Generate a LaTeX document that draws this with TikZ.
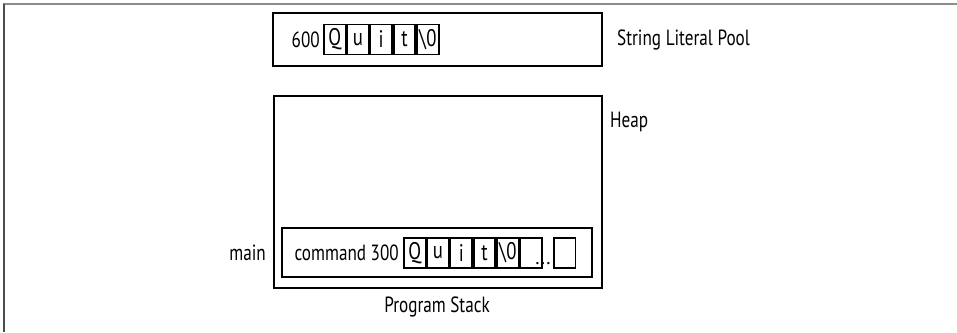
\documentclass[tikz,border=0pt]{standalone}
\usepackage{fontspec}
\usetikzlibrary{fit}
\setmainfont{PT Sans}[FakeStretch=0.78]
\newfontfamily\dotfont{PT Sans}
\begin{document}
\begin{tikzpicture}[x=1pt,y=-1pt,
  box/.style={draw=black,line width=2.4pt,inner sep=0pt},
  cell/.style={draw=black,line width=1.8pt,minimum width=21.5pt,minimum height=30pt,inner sep=0pt,anchor=west,font=\fontsize{24}{24}\selectfont},
  lbl/.style={inner sep=0pt,font=\fontsize{22}{22}\selectfont}]
\useasboundingbox (0,0) rectangle (957,332);
% frame
\draw[line width=2pt,draw=black!45] (3,4) -- (957,4);
\draw[line width=2pt,draw=black!70] (4,4) -- (4,332);
% string literal pool
\node[box,fit={(273,13) (602,66)}] (pool) {};
\node[lbl,anchor=west] (poollbl) at (617,40) {String Literal Pool};
\node[lbl,anchor=east] (six) at (320,40) {600};
\node[cell] (p1) at (323,39.5) {Q};
\node[cell,anchor=west] (p2) at (p1.east) {u};
\node[cell,anchor=west] (p3) at (p2.east) {i};
\node[cell,anchor=west] (p4) at (p3.east) {t};
\node[cell,anchor=west] (p5) at (p4.east) {\textbackslash 0};
% heap / stack
\node[box,fit={(274,96) (602,288)}] (heap) {};
\node[lbl,anchor=west] (heaplbl) at (610,122) {Heap};
\node[box,fit={(282,228) (592,277)}] (frame) {};
\node[lbl,anchor=east] (main) at (266,253) {main};
\node[lbl,anchor=east] (cmd) at (399,253) {command 300};
\node[cell] (c1) at (403,253) {Q};
\node[cell] (c2) at (c1.east) {u};
\node[cell] (c3) at (c2.east) {i};
\node[cell] (c4) at (c3.east) {t};
\node[cell] (c5) at (c4.east) {\textbackslash 0};
\node[cell] (c6) at (c5.east) {};
\node[inner sep=0pt,font=\dotfont\fontsize{20}{20}\selectfont,anchor=base] (dots) at (543,264) {...};
\node[cell] (c7) at (553,253) {};
\node[lbl,anchor=center] (pslbl) at (437,307) {Program Stack};
\end{tikzpicture}
\end{document}
